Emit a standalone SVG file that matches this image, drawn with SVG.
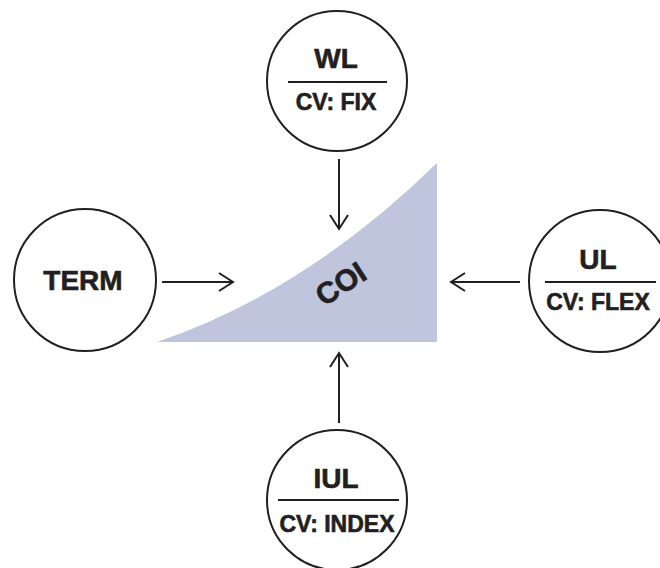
<svg xmlns="http://www.w3.org/2000/svg" width="660" height="568" viewBox="0 0 660 568">
<style>
.node circle{fill:#fff;stroke:#231f20;stroke-width:2}
.node line{stroke:#231f20;stroke-width:2}
text{font-family:"Liberation Sans",Arial,sans-serif;font-weight:bold;fill:#231f20;stroke:#231f20;stroke-width:0.6;text-anchor:middle}
.big{font-size:28px}
.small{font-size:23px}
.coi{font-size:30px}
.conn line{stroke:#231f20;stroke-width:2;fill:none;marker-end:url(#arr)}
</style>
<defs>
<marker id="arr" markerUnits="userSpaceOnUse" markerWidth="20" markerHeight="24" viewBox="-16 -12 20 24" refX="0" refY="0" orient="auto">
<path d="M-14,-9 L0,0 L-14,9" fill="none" stroke="#231f20" stroke-width="2"/>
</marker>
</defs>
<rect width="660" height="568" fill="#fff"/>
<g id="coi">
<path d="M157,342 Q305,292 437,163 L437,342 Z" fill="#bec5dc"/>
<text class="coi" transform="translate(341,284) rotate(-33)" y="10">COI</text>
</g>
<g id="connectors" class="conn">
<line x1="339" y1="159" x2="339" y2="229"/>
<line x1="162" y1="282" x2="233" y2="282"/>
<line x1="520" y1="282" x2="451" y2="282"/>
<line x1="339" y1="423" x2="339" y2="353"/>
</g>
<g id="wl" class="node">
<circle cx="337" cy="81" r="70"/>
<text class="big" x="336" y="68">WL</text>
<line x1="288" y1="82" x2="387" y2="82"/>
<text class="small" x="336" y="110">CV: FIX</text>
</g>
<g id="term" class="node">
<circle cx="85" cy="280" r="71"/>
<text class="big" x="83" y="290">TERM</text>
</g>
<g id="ul" class="node">
<circle cx="600" cy="281" r="71"/>
<text class="big" x="598" y="269">UL</text>
<line x1="545" y1="282" x2="656" y2="282"/>
<text class="small" x="598" y="310">CV: FLEX</text>
</g>
<g id="iul" class="node">
<circle cx="337" cy="500" r="70"/>
<text class="big" x="336" y="488">IUL</text>
<line x1="278" y1="500" x2="399" y2="500"/>
<text class="small" x="337" y="532">CV: INDEX</text>
</g>
</svg>
